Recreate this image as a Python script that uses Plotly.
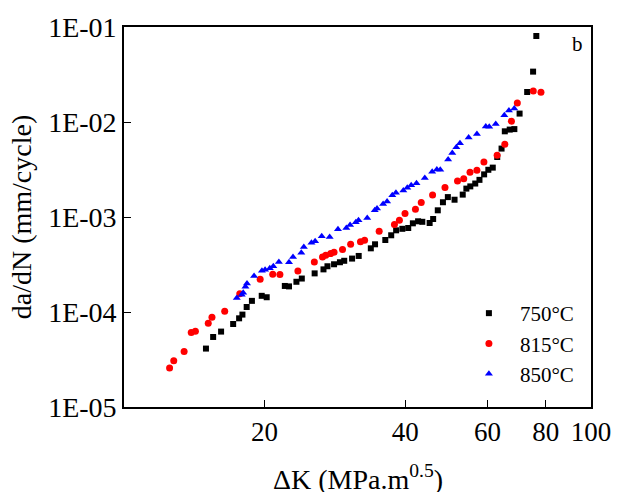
import plotly.graph_objects as go

# ΔK (MPa.m^0.5) and da/dN (mm/cycle)
dk_750 = [14.98, 15.52, 16.14, 17.13, 17.64, 17.93, 18.31, 18.79, 19.72, 20.21,
          22.10, 22.56, 23.40, 24.03, 25.60, 26.74, 27.27, 28.17, 29.00, 29.62,
          30.79, 31.81, 33.77, 34.48, 36.27, 37.34, 38.26, 39.45, 40.61, 41.55,
          42.63, 43.53, 45.13, 45.92, 46.98, 48.19, 49.37, 51.03, 53.13, 54.09,
          55.15, 56.51, 57.70, 59.04, 60.28, 61.61, 62.98, 64.34, 65.38, 66.98,
          68.53, 70.32, 73.00, 75.16, 76.37]
dadn_750 = [4.12e-5, 5.46e-5, 6.22e-5, 7.48e-5, 8.58e-5, 9.39e-5, 1.129e-4, 1.31e-4, 1.48e-4, 1.43e-4,
            1.88e-4, 1.86e-4, 2.08e-4, 2.25e-4, 2.55e-4, 2.81e-4, 3.03e-4, 3.18e-4, 3.34e-4, 3.46e-4,
            3.65e-4, 3.89e-4, 4.68e-4, 5.16e-4, 5.73e-4, 6.42e-4, 7.24e-4, 7.51e-4, 7.66e-4, 8.58e-4,
            9.01e-4, 8.90e-4, 8.65e-4, 9.53e-4, 1.176e-3, 1.43e-3, 1.62e-3, 1.52e-3, 1.72e-3, 1.99e-3,
            2.10e-3, 2.25e-3, 2.46e-3, 2.81e-3, 3.14e-3, 3.31e-3, 4.28e-3, 5.25e-3, 7.98e-3, 8.32e-3,
            8.42e-3, 1.226e-2, 2.07e-2, 3.39e-2, 8.04e-2]

dk_815 = [12.52, 12.78, 13.45, 13.93, 14.22, 15.15, 15.43, 16.43, 17.70, 19.57,
          20.82, 21.57, 23.57, 25.56, 26.61, 27.04, 27.71, 28.17, 29.37, 30.57,
          32.09, 32.75, 35.19, 37.94, 38.88, 39.97, 42.08, 43.30, 45.79, 48.68,
          51.78, 53.39, 55.07, 56.98, 58.98, 62.95, 65.38, 67.54, 69.54, 75.23,
          78.13]
dadn_815 = [2.57e-5, 3.06e-5, 3.84e-5, 6.08e-5, 6.26e-5, 7.60e-5, 8.79e-5, 1.017e-4, 1.56e-4, 2.21e-4,
            2.49e-4, 2.48e-4, 2.70e-4, 3.36e-4, 3.79e-4, 3.95e-4, 4.12e-4, 4.25e-4, 4.54e-4, 5.16e-4,
            5.48e-4, 5.69e-4, 7.07e-4, 8.34e-4, 9.23e-4, 1.086e-3, 1.205e-3, 1.42e-3, 1.70e-3, 2.04e-3,
            2.40e-3, 2.52e-3, 2.95e-3, 3.10e-3, 3.79e-3, 4.48e-3, 5.82e-3, 1.02e-2, 1.585e-2, 2.12e-2,
            2.06e-2]

dk_850 = [17.44, 17.87, 18.00, 18.20, 18.34, 18.99, 19.74, 20.05, 20.52, 20.88,
          21.46, 22.56, 23.01, 23.97, 24.27, 25.20, 25.66, 26.51, 27.57, 28.72,
          29.93, 30.49, 31.36, 31.78, 33.18, 34.43, 34.82, 35.88, 36.59, 37.54,
          38.22, 39.64, 40.42, 41.21, 42.30, 44.07, 45.70, 46.76, 47.56, 49.44,
          50.46, 51.48, 52.41, 54.70, 56.98, 59.53, 60.55, 62.52, 65.22, 66.72,
          68.50]
dadn_850 = [1.40e-4, 1.52e-4, 1.59e-4, 1.84e-4, 1.99e-4, 2.40e-4, 2.71e-4, 2.79e-4, 2.88e-4, 3.03e-4,
            3.36e-4, 3.34e-4, 3.79e-4, 4.20e-4, 4.83e-4, 5.35e-4, 5.55e-4, 6.26e-4, 6.16e-4, 7.42e-4,
            7.66e-4, 8.24e-4, 8.79e-4, 9.23e-4, 9.76e-4, 1.18e-3, 1.23e-3, 1.37e-3, 1.46e-3, 1.69e-3,
            1.80e-3, 1.90e-3, 2.03e-3, 2.16e-3, 2.26e-3, 2.57e-3, 2.99e-3, 3.16e-3, 3.15e-3, 4.02e-3,
            4.71e-3, 5.42e-3, 5.98e-3, 6.85e-3, 7.48e-3, 8.95e-3, 8.90e-3, 9.53e-3, 1.18e-2, 1.32e-2,
            1.39e-2]

x_ticks = [20, 40, 60, 80, 100]
x_ticktext = ["20", "40", "60", "80", "100"]
y_ticks = [1e-5, 1e-4, 1e-3, 1e-2, 1e-1]
y_ticktext = ["1E-05", "1E-04", "1E-03", "1E-02", "1E-01"]

FONT = "Liberation Serif"

fig = go.Figure()
fig.add_trace(go.Scatter(x=dk_750, y=dadn_750, mode="markers", name="750°C",
                         marker=dict(symbol="square", size=6, color="#000000")))
fig.add_trace(go.Scatter(x=dk_815, y=dadn_815, mode="markers", name="815°C",
                         marker=dict(symbol="circle", size=7, color="#ff0000")))
fig.add_trace(go.Scatter(x=dk_850, y=dadn_850, mode="markers", name="850°C",
                         marker=dict(symbol="triangle-up", size=7, color="#0000ff")))

axis_common = dict(showline=True, linecolor="black", linewidth=1.6, mirror=True,
                   ticks="inside", ticklen=7, tickwidth=1.4, tickcolor="black",
                   showgrid=False, zeroline=False)

fig.update_xaxes(type="log", range=[1, 2], tickmode="array", tickvals=x_ticks,
                 ticktext=x_ticktext, tickfont=dict(family=FONT, size=27, color="black"),
                 **axis_common)
fig.update_yaxes(type="log", range=[-5, -1], tickmode="array", tickvals=y_ticks,
                 ticktext=y_ticktext, tickfont=dict(family=FONT, size=28, color="black"),
                 **axis_common)

fig.update_layout(
    width=623, height=492,
    margin=dict(l=124, r=25, t=27, b=85, pad=0),
    paper_bgcolor="white", plot_bgcolor="white",
    font=dict(family=FONT, color="black"),
    showlegend=True,
    legend=dict(x=0.715, y=0.30, xanchor="left", yanchor="top",
                bgcolor="rgba(0,0,0,0)", borderwidth=0,
                font=dict(family=FONT, size=21, color="black"),
                tracegroupgap=0, itemwidth=52),
    annotations=[
        dict(text="da/dN (mm/cycle)", xref="paper", yref="paper", x=-0.22, y=0.5,
             xanchor="center", yanchor="middle", textangle=-90, showarrow=False,
             font=dict(family=FONT, size=28, color="black")),
        dict(text="ΔK (MPa.m<sup>0.5</sup>)", xref="paper", yref="paper", x=0.5, y=-0.135,
             xanchor="center", yanchor="top", showarrow=False,
             font=dict(family=FONT, size=28, color="black")),
        dict(text="b", xref="paper", yref="paper", x=0.972, y=0.955,
             xanchor="center", yanchor="middle", showarrow=False,
             font=dict(family=FONT, size=21, color="black")),
    ],
)

fig.write_html("out.html")
